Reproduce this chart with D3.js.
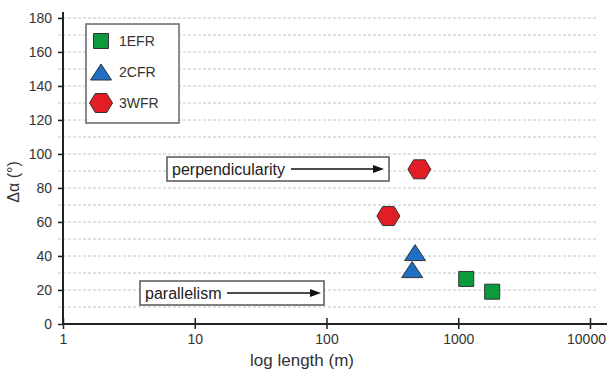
<!DOCTYPE html>
<html>
<head>
<meta charset="utf-8">
<script src="https://cdn.jsdelivr.net/npm/d3@7"></script>
<style>
  body { margin: 0; background: #fff; }
  text { font-family: "Liberation Sans", Arial, sans-serif; }
</style>
</head>
<body>
<div id="chart"></div>
<script>
// series names
const seriesNames = ['1EFR', '2CFR', '3WFR'];
const seriesColors = ['#0b9a3c', '#1f6fc5', '#e21d26'];

// length (m) and delta alpha (deg) for each series
const efrLength = [1150, 1810];
const efrAngle = [26.5, 19];
const cfrLength = [470, 447];
const cfrAngle = [42, 32];
const wfrLength = [507, 295];
const wfrAngle = [91, 63.5];

const xTicks = [1, 10, 100, 1000, 10000];
const yTicks = [0, 20, 40, 60, 80, 100, 120, 140, 160, 180];
const gridValues = d3.range(10, 181, 10);

const W = 610, H = 372;
const svg = d3.select('#chart').append('svg')
    .attr('width', W)
    .attr('height', H);

// scales
const x = d3.scaleLog().domain([1, 10000]).range([63, 590]);
const y = d3.scaleLinear().domain([0, 180]).range([324, 18]);

// dashed gridlines
svg.append('g').selectAll('line')
    .data(gridValues)
    .enter().append('line')
    .attr('x1', 58)
    .attr('x2', 596)
    .attr('y1', d => y(d))
    .attr('y2', d => y(d))
    .attr('stroke', '#c4c4c4')
    .attr('stroke-width', 1)
    .attr('stroke-dasharray', '3,2');

// y axis
const yAxis = d3.axisLeft(y).tickValues(yTicks).tickSize(6).tickPadding(6);
const gy = svg.append('g').attr('transform', 'translate(63,0)').call(yAxis);
gy.select('.domain').remove();
gy.selectAll('.tick line').attr('stroke', '#222').attr('stroke-width', 1.5).attr('x2', -5).attr('x1', 1);
gy.selectAll('.tick text').attr('font-size', 14).attr('fill', '#333').attr('x', -11);
svg.append('line')
    .attr('x1', 63).attr('x2', 63).attr('y1', 12).attr('y2', 325)
    .attr('stroke', '#222').attr('stroke-width', 2);

// x axis
const xAxis = d3.axisBottom(x).tickValues(xTicks).tickFormat(d3.format('d')).tickSize(6).tickPadding(4);
const gx = svg.append('g').attr('transform', 'translate(0,324)').call(xAxis);
gx.select('.domain').remove();
gx.selectAll('.tick line').attr('stroke', '#222').attr('stroke-width', 1.5).attr('y1', -6).attr('y2', 5);
gx.selectAll('.tick text').attr('font-size', 14).attr('fill', '#333')
    .attr('dx', d => d === 10000 ? -4 : 0);
svg.append('line')
    .attr('x1', 62).attr('x2', 607).attr('y1', 324).attr('y2', 324)
    .attr('stroke', '#222').attr('stroke-width', 2);

// axis titles
svg.append('text')
    .attr('x', 302).attr('y', 366)
    .attr('text-anchor', 'middle')
    .attr('font-size', 17)
    .attr('fill', '#333')
    .text('log length (m)');
svg.append('text')
    .attr('transform', 'translate(19,182) rotate(-90)')
    .attr('text-anchor', 'middle')
    .attr('font-size', 16)
    .attr('fill', '#333')
    .text('Δα (°)');

// marker shapes
function squarePath(s) {
    const h = s / 2;
    return `M${-h},${-h}L${h},${-h}L${h},${h}L${-h},${h}Z`;
}
function trianglePath(w, h) {
    return `M0,${-h / 2}L${w / 2},${h / 2}L${-w / 2},${h / 2}Z`;
}
function hexPath(w, h) {
    const a = w / 2, b = h / 2, c = w / 4;
    return `M${-a},0L${-c},${-b}L${c},${-b}L${a},0L${c},${b}L${-c},${b}Z`;
}
const shapes = [squarePath(15), trianglePath(21, 16), hexPath(23, 19)];

// annotation boxes with arrows
function annotation(x0, x1, yc, label, ax0, ax1) {
    const g = svg.append('g');
    g.append('rect')
        .attr('x', x0).attr('y', yc - 12)
        .attr('width', x1 - x0).attr('height', 24)
        .attr('fill', '#fff').attr('stroke', '#555').attr('stroke-width', 1.5);
    g.append('text')
        .attr('x', x0 + 5).attr('y', yc + 5.5)
        .attr('font-size', 16).attr('fill', '#222')
        .text(label);
    g.append('line')
        .attr('x1', ax0).attr('x2', ax1 - 8)
        .attr('y1', yc).attr('y2', yc)
        .attr('stroke', '#111').attr('stroke-width', 1.5);
    g.append('path')
        .attr('d', `M${ax1},${yc}L${ax1 - 11},${yc - 4}L${ax1 - 11},${yc + 4}Z`)
        .attr('fill', '#111');
}
annotation(167, 389, 169, 'perpendicularity', 291, 384);
annotation(140, 324, 293, 'parallelism', 227, 321);

// data points
const seriesData = [
    efrLength.map((l, i) => ({ l, a: efrAngle[i] })),
    cfrLength.map((l, i) => ({ l, a: cfrAngle[i] })),
    wfrLength.map((l, i) => ({ l, a: wfrAngle[i] }))
];
seriesData.forEach((pts, k) => {
    svg.append('g').selectAll('path')
        .data(pts)
        .enter().append('path')
        .attr('d', shapes[k])
        .attr('transform', d => `translate(${x(d.l)},${y(d.a)})`)
        .attr('fill', seriesColors[k])
        .attr('stroke', '#333')
        .attr('stroke-width', 1);
});

// legend
const legend = svg.append('g');
legend.append('rect')
    .attr('x', 86).attr('y', 24)
    .attr('width', 93).attr('height', 99)
    .attr('fill', '#fff').attr('stroke', '#666').attr('stroke-width', 1.5);
seriesNames.forEach((name, k) => {
    const cy = 41 + k * 31;
    legend.append('path')
        .attr('d', shapes[k])
        .attr('transform', `translate(101,${cy})`)
        .attr('fill', seriesColors[k])
        .attr('stroke', '#333')
        .attr('stroke-width', 1);
    legend.append('text')
        .attr('x', 119).attr('y', cy + 5)
        .attr('font-size', 14).attr('fill', '#333')
        .text(name);
});
</script>
</body>
</html>
